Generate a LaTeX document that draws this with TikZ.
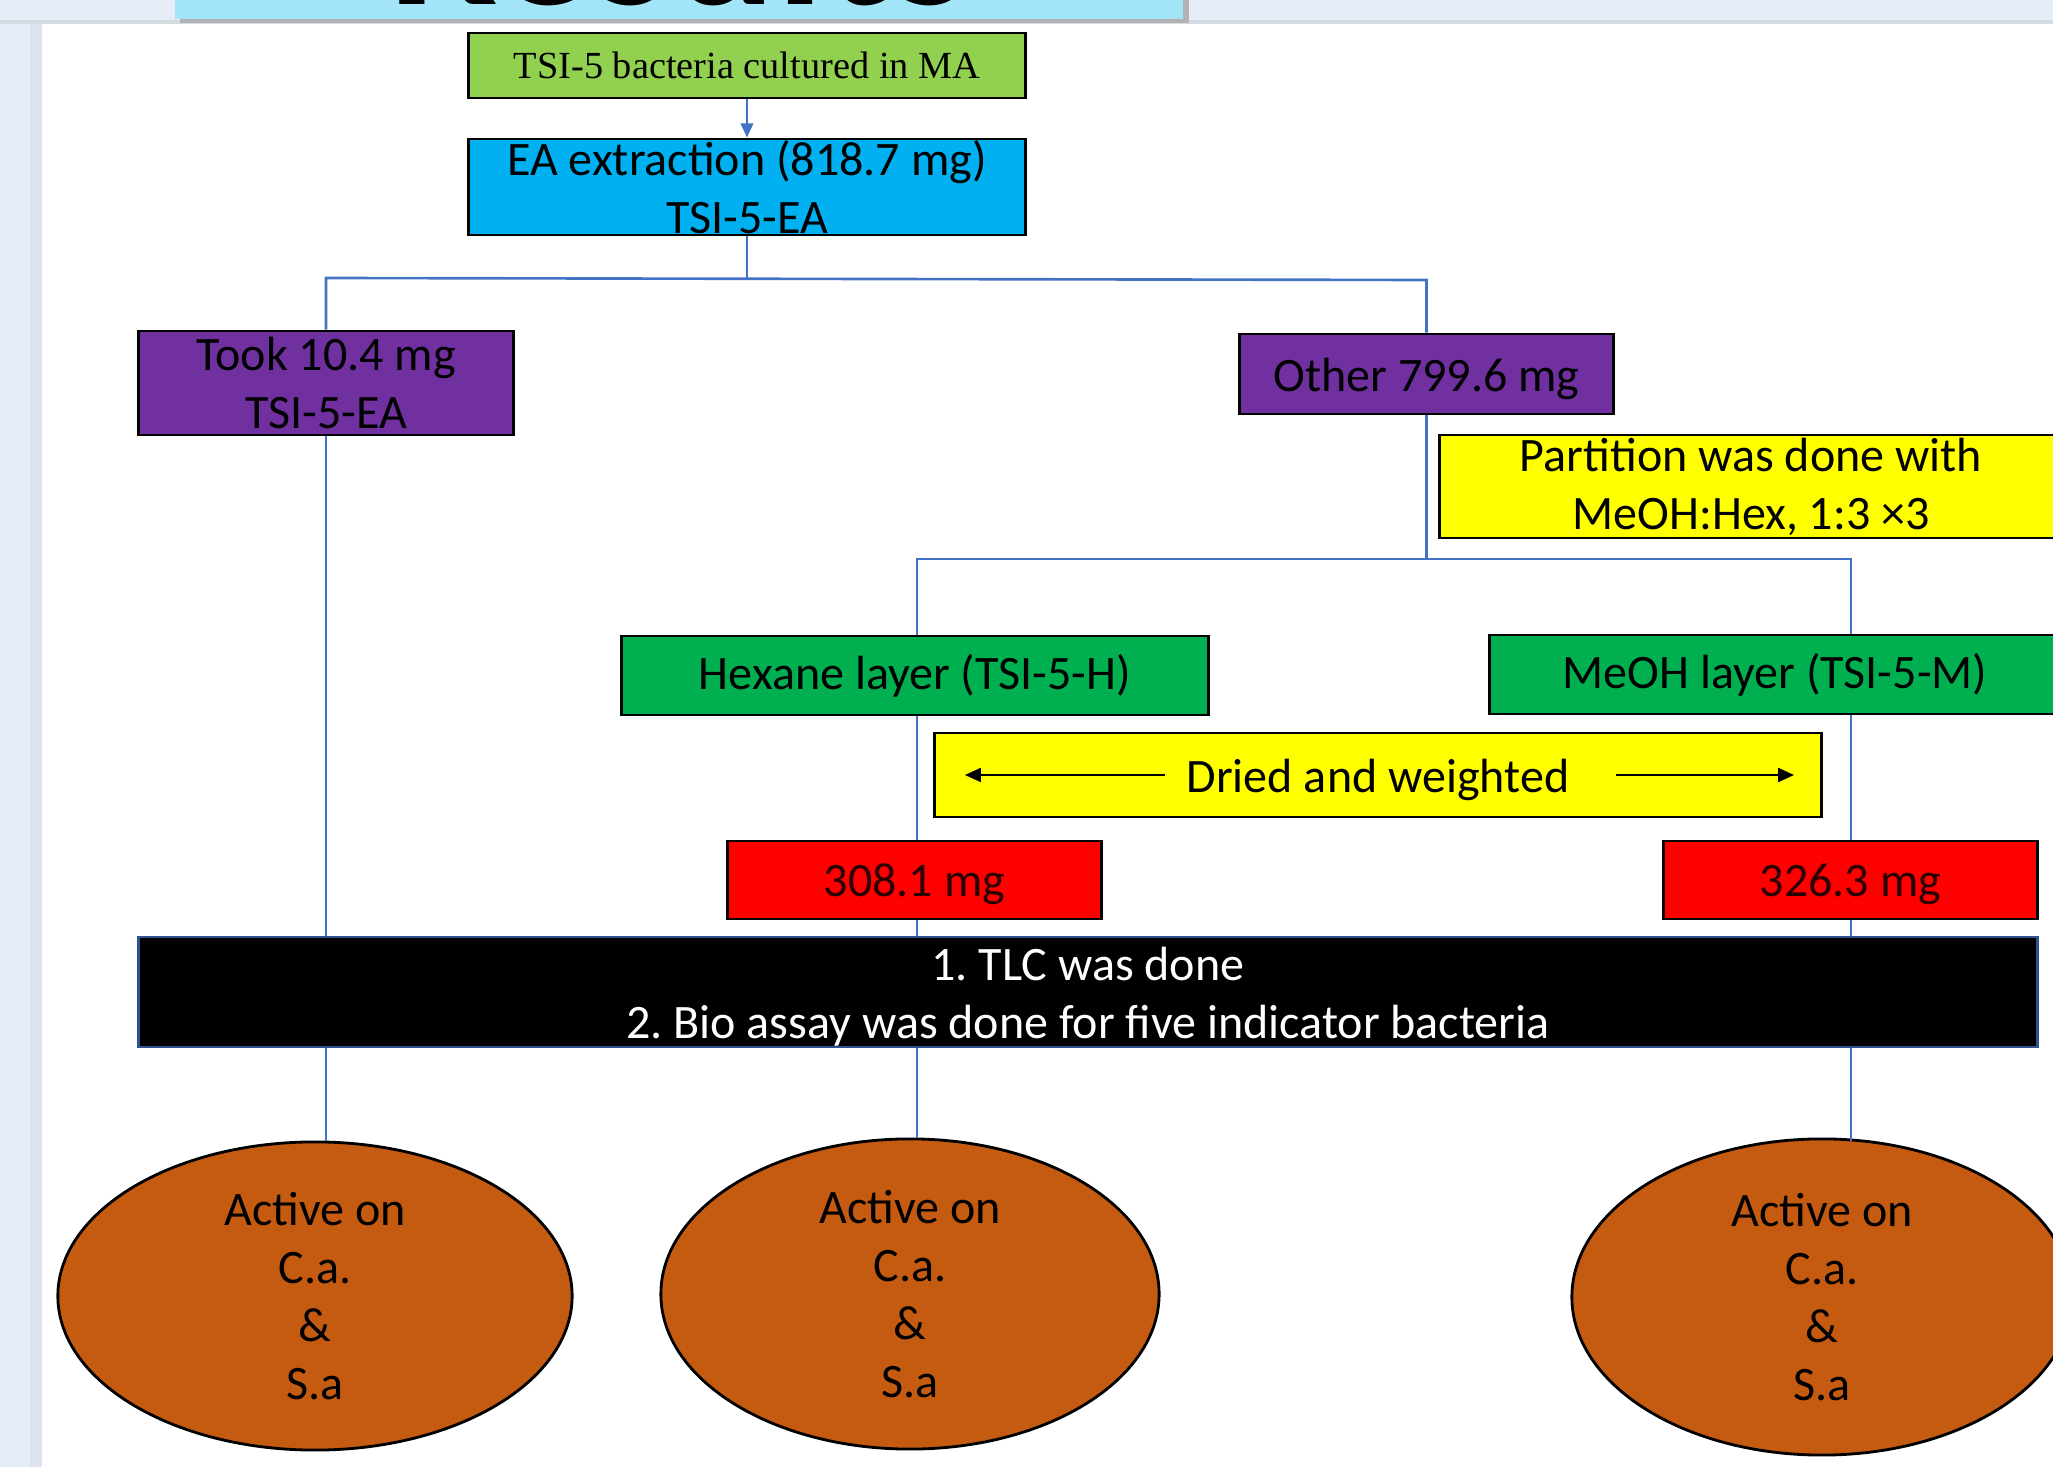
\documentclass[tikz,border=0pt]{standalone}
\usepackage{fontspec}
\setmainfont{Carlito}
\newfontfamily\timesf{Liberation Serif}
\usetikzlibrary{arrows.meta,shapes.geometric}
\frenchspacing
\definecolor{bgpanel}{HTML}{E7EDF7}
\definecolor{bgband}{HTML}{DCE3EE}
\definecolor{topline}{HTML}{D3DAE0}
\definecolor{titlecyan}{HTML}{A3E5F8}
\definecolor{lgreen}{HTML}{92D050}
\definecolor{skyblue}{HTML}{00B0F0}
\definecolor{purp}{HTML}{7030A0}
\definecolor{yell}{HTML}{FFFF00}
\definecolor{dgreen}{HTML}{00B050}
\definecolor{redbox}{HTML}{FF0000}
\definecolor{rust}{HTML}{C55A11}
\definecolor{conblue}{HTML}{4472C4}
\definecolor{navyedge}{HTML}{2F528F}
\definecolor{redtext}{HTML}{2B0000}
\newcommand\fsz{\fontsize{13.66pt}{16.5pt}\selectfont}
\newcommand\lowertxt[1]{\raisebox{-1.3pt}[\height][\depth]{#1}}
\tikzset{
  boxnode/.style={draw=black, line width=0.8pt, inner sep=0pt, align=center, font=\fsz, text=black},
  oval/.style={ellipse, draw=black, line width=0.8pt, fill=rust, inner sep=0pt, align=center, font=\fsz, text=black},
  conn/.style={draw=conblue, line width=0.75pt},
  dryarrow/.style={draw=black, line width=0.45pt, -{Triangle[length=4.5pt,width=4pt]}}
}
\begin{document}
\begin{tikzpicture}[x=0.01cm,y=-0.01cm]
\useasboundingbox (0,0) rectangle (2053,1467);
\clip (0,0) rectangle (2053,1467);
% background
\fill[bgpanel] (0,0) rectangle (2053,1467);
\fill[bgband] (30,24) rectangle (42,1467);
\fill[topline] (0,20) rectangle (2053,24);
\fill[white] (42,24) rectangle (2053,1467);
% title box (cut off at top)
\fill[black!30] (180,-60) rectangle (1189,23);
\fill[titlecyan] (175,-60) rectangle (1183,19);
\node[anchor=base, font=\fontsize{55.5pt}{60pt}\selectfont\bfseries, inner sep=0pt, text depth=0pt] (title) at (679,5) {Results};
% nodes
\node[boxnode, fill=lgreen, minimum width=5.56cm, minimum height=0.65cm, font=\timesf\fontsize{10.9pt}{13pt}\selectfont] (cult) at (747,65.5) {TSI-5 bacteria cultured in MA};
\node[boxnode, fill=skyblue, minimum width=5.56cm, minimum height=0.96cm] (ea) at (747,187) {EA extraction (818.7 mg)\\TSI-5-EA};
\node[boxnode, fill=purp, minimum width=3.74cm, minimum height=1.04cm] (took) at (326,383) {Took 10.4 mg\\TSI-5-EA};
\node[boxnode, fill=purp, minimum width=3.73cm, minimum height=0.80cm] (other) at (1426.5,374) {\lowertxt{Other 799.6 mg}};
\node[boxnode, fill=yell, minimum width=6.22cm, minimum height=1.03cm] (part) at (1751,486.5) {Partition was done with\\MeOH:Hex, 1:3 ×3};
\node[boxnode, fill=dgreen, minimum width=5.86cm, minimum height=0.79cm] (hex) at (915,675.5) {Hexane layer (TSI-5-H)};
\node[boxnode, fill=dgreen, minimum width=5.70cm, minimum height=0.79cm] (meoh) at (1775,674.5) {MeOH layer (TSI-5-M)};
\node[boxnode, fill=yell, minimum width=8.86cm, minimum height=0.84cm] (dried) at (1378,775) {\lowertxt{Dried and weighted}};
\node[boxnode, fill=redbox, text=redtext, minimum width=3.73cm, minimum height=0.78cm] (r1) at (914.5,880) {\lowertxt{308.1 mg}};
\node[boxnode, fill=redbox, text=redtext, minimum width=3.73cm, minimum height=0.78cm] (r2) at (1850.5,880) {\lowertxt{326.3 mg}};
\node[boxnode, fill=black, draw=navyedge, text=white, minimum width=18.98cm, minimum height=1.10cm] (tlc) at (1088,992) {\lowertxt{\parbox{12cm}{\centering 1. TLC was done\\2. Bio assay was done for five indicator bacteria}}};
\node[oval, minimum width=5.14cm, minimum height=3.08cm] (e1) at (315,1296) {Active on\\C.a.\\\&\\S.a};
\node[oval, minimum width=4.98cm, minimum height=3.10cm] (e2) at (910,1294) {Active on\\C.a.\\\&\\S.a};
\node[oval, minimum width=5.00cm, minimum height=3.16cm] (e3) at (1822,1297) {Active on\\C.a.\\\&\\S.a};
% arrows inside the dried box
\coordinate (dl1) at (1165,775);
\coordinate (dl2) at (965,775);
\coordinate (dr1) at (1616,775);
\coordinate (dr2) at (1794,775);
\draw[dryarrow] (dl1) -- (dl2);
\draw[dryarrow] (dr1) -- (dr2);
% connectors
\draw[conn, -{Triangle[length=4pt,width=3.5pt]}] (cult) -- (ea);
\coordinate (jl) at (326,278);
\coordinate (jr) at (1426.5,280);
\draw[conn] (ea.south) -- (ea.south |- jl);
\draw[conn] (took.north) -- (jl) -- (jr) -- (other.north);
\coordinate (jh) at (917,559);
\coordinate (jm) at (1851,559);
\draw[conn] (other.south) -- (other.south |- jh);
\draw[conn] (hex.north -| jh) -- (jh) -- (jm) -- (meoh.north -| jm);
\draw[conn] (hex.south -| jh) -- (r1.north -| jh);
\draw[conn] (meoh.south -| jm) -- (r2.north -| jm);
\draw[conn] (took.south) -- (took.south |- tlc.north);
\draw[conn] (r1.south -| jh) -- (tlc.north -| jh);
\draw[conn] (r2.south -| jm) -- (tlc.north -| jm);
\draw[conn] (tlc.south -| took.south) -- (e1.north -| took.south);
\draw[conn] (tlc.south -| jh) -- (e2.north -| jh);
\draw[conn] (tlc.south -| jm) -- ([yshift=-1pt]e3.north -| jm);
\end{tikzpicture}
\end{document}
